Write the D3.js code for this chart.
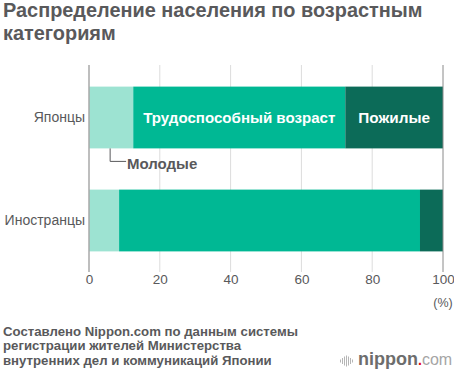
<!DOCTYPE html>
<html>
<head>
<meta charset="utf-8">
<script src="https://cdn.jsdelivr.net/npm/d3@7"></script>
<style>
html, body { margin: 0; padding: 0; background: #fff; }
text { font-family: "Liberation Sans", Arial, sans-serif; }
</style>
</head>
<body>
<div id="chart"></div>
<script>
// data
const groups = ['Японцы', 'Иностранцы']
const seriesNames = ['Молодые', 'Трудоспособный возраст', 'Пожилые']
const young = [12.5, 8.5]
const working = [59.9, 85]
const elderly = [27.6, 6.5]
const xTicks = [0, 20, 40, 60, 80, 100]
const titleLines = ['Распределение населения по возрастным', 'категориям']
const sourceLines = [
    'Составлено Nippon.com по данным системы',
    'регистрации жителей Министерства',
    'внутренних дел и коммуникаций Японии'
]
const logoBars = [3, 6, 9, 11, 9, 6, 3]

const colors = ['#9de3d2', '#00b894', '#0c6b58']

const svg = d3.select('#chart').append('svg')
    .attr('width', 454).attr('height', 372)
    .style('display', 'block')

// title
svg.selectAll('.title').data(titleLines).enter().append('text')
    .attr('class', 'title')
    .attr('x', 3)
    .attr('y', (d, i) => 17 + i * 23)
    .attr('font-size', 19.9)
    .attr('font-weight', 'bold')
    .attr('fill', '#59595b')
    .text(d => d)

// scales
const xScale = d3.scaleLinear().domain([0, 100]).range([89, 443])
const yScale = d3.scaleBand().domain(groups).range([66, 272]).paddingInner(0.4).paddingOuter(0.2)

// grid + axis
const xAxis = d3.axisBottom(xScale).tickValues(xTicks).tickSize(0).tickPadding(6)
const xAxisDraw = svg.append('g').attr('transform', 'translate(0,268)').call(xAxis)
xAxisDraw.select('.domain').remove()
xAxisDraw.selectAll('text')
    .attr('font-size', 13.5)
    .attr('fill', '#59595b')
    .style('font-family', '"Liberation Sans", Arial, sans-serif')

svg.selectAll('.grid').data(xTicks.slice(1, -1)).enter().append('line')
    .attr('class', 'grid')
    .attr('x1', d => xScale(d)).attr('x2', d => xScale(d))
    .attr('y1', 65).attr('y2', 272)
    .attr('stroke', '#dcdcdc').attr('stroke-width', 1)

// bars
const stackData = groups.map((g, i) => ({ group: g, 0: young[i], 1: working[i], 2: elderly[i] }))
const stacked = d3.stack().keys([0, 1, 2])(stackData)
svg.selectAll('.layer').data(stacked).enter().append('g')
    .attr('class', 'layer')
    .attr('fill', (d, i) => colors[i])
    .selectAll('rect').data(d => d).enter().append('rect')
    .attr('x', d => xScale(d[0]))
    .attr('y', d => yScale(d.data.group))
    .attr('width', d => xScale(d[1]) - xScale(d[0]))
    .attr('height', yScale.bandwidth())

// axis lines
svg.append('line')
    .attr('x1', xScale(0)).attr('x2', xScale(0)).attr('y1', 65).attr('y2', 272)
    .attr('stroke', '#a8a8a8').attr('stroke-width', 1.5)
svg.append('line')
    .attr('x1', xScale(100)).attr('x2', xScale(100)).attr('y1', 65).attr('y2', 272)
    .attr('stroke', '#8a8a8a').attr('stroke-width', 1)

// group labels
svg.selectAll('.group').data(groups).enter().append('text')
    .attr('class', 'group')
    .attr('x', 85)
    .attr('y', d => yScale(d) + yScale.bandwidth() / 2 + 4.5)
    .attr('text-anchor', 'end')
    .attr('font-size', 14)
    .attr('fill', '#59595b')
    .text(d => d)

// series labels inside the first bar
const y0 = yScale(groups[0]) + yScale.bandwidth() / 2 + 5.5
svg.append('text')
    .attr('x', xScale(young[0] + working[0] / 2))
    .attr('y', y0)
    .attr('text-anchor', 'middle')
    .attr('font-size', 15.1).attr('font-weight', 'bold').attr('fill', '#fff')
    .text(seriesNames[1])
svg.append('text')
    .attr('x', xScale(young[0] + working[0] + elderly[0] / 2))
    .attr('y', y0)
    .attr('text-anchor', 'middle')
    .attr('font-size', 15.3).attr('font-weight', 'bold').attr('fill', '#fff')
    .text(seriesNames[2])

// callout for the young group
const calloutX = xScale(young[0] / 2) - 1
const barBottom = yScale(groups[0]) + yScale.bandwidth()
svg.append('path')
    .attr('d', `M${calloutX},${barBottom}V${barBottom + 13}H${calloutX + 16}`)
    .attr('fill', 'none').attr('stroke', '#59595b').attr('stroke-width', 1)
svg.append('text')
    .attr('x', 127).attr('y', 169)
    .attr('font-size', 15).attr('font-weight', 'bold').attr('fill', '#59595b')
    .text(seriesNames[0])

// unit
svg.append('text')
    .attr('x', 443).attr('y', 307)
    .attr('text-anchor', 'middle')
    .attr('font-size', 12.5).attr('fill', '#59595b')
    .text('(%)')

// source
svg.selectAll('.source').data(sourceLines).enter().append('text')
    .attr('class', 'source')
    .attr('x', 3)
    .attr('y', (d, i) => 336 + i * 14.3)
    .attr('font-size', 13.2)
    .attr('font-weight', 'bold')
    .attr('fill', '#59595b')
    .text(d => d)

// logo
const logo = svg.append('g').attr('transform', 'translate(340,365)')
logo.selectAll('rect').data(logoBars).enter().append('rect')
    .attr('x', (d, i) => i * 2)
    .attr('y', d => -4 - d / 2)
    .attr('width', 1).attr('height', d => d)
    .attr('fill', '#b5b5b5')
const logoText = logo.append('text').attr('x', 18).attr('y', 0).attr('font-size', 18)
logoText.append('tspan').attr('font-weight', 'bold').attr('fill', '#6d6d6d').text('nippon')
logoText.append('tspan').attr('font-weight', 'bold').attr('fill', '#e60012').attr('font-size', 14).text('.')
logoText.append('tspan').attr('fill', '#a5a5a5').attr('font-size', 16).text('com')
</script>
</body>
</html>
